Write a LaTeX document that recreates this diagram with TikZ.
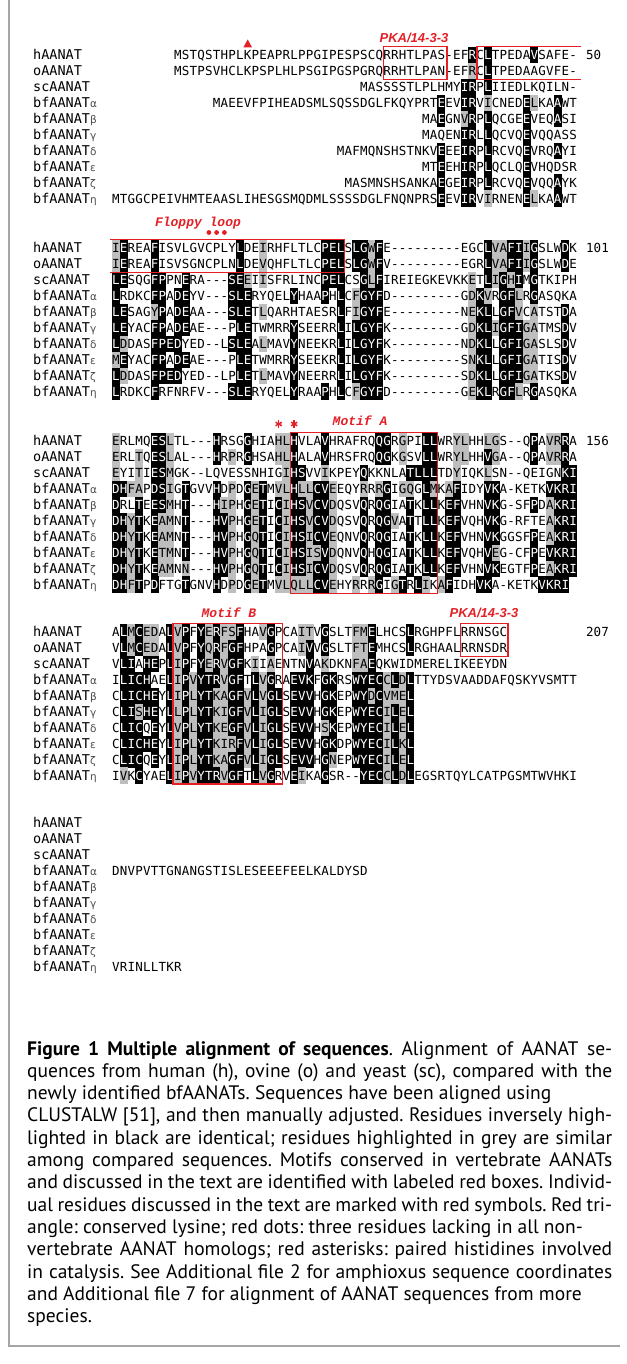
\documentclass[tikz,border=0pt]{standalone}
\usepackage{fontspec}
\newfontfamily\seqfont{DejaVu Sans Mono}
\newfontfamily\greekfont{DejaVu Sans}
\newfontfamily\capfont{PT Sans}
\newfontfamily\redmono{Liberation Mono}
\newfontfamily\redsans{Liberation Sans}
\definecolor{redbox}{RGB}{226,32,38}
\definecolor{hlgrey}{RGB}{190,190,190}
\definecolor{framegrey}{RGB}{165,165,165}
\newcount\cidx
\def\rowY{0}
\def\rs{15.95}
\def\seqcell#1#2{%
  \pgfmathsetmacro\cx{104.25+7.75*\the\cidx}%
  \if b#2\relax
    \fill[black] (\cx-0.1,\rowY-8.1) rectangle ++(7.95,16.2);\def\seqcol{white}%
  \else\if g#2\relax
    \fill[hlgrey] (\cx-0.1,\rowY-8.1) rectangle ++(7.95,16.2);\def\seqcol{black}%
  \else\def\seqcol{black}\fi\fi
  \node[res,text=\seqcol] at (\cx+3.875,\rowY+4.5) {#1};%
  \advance\cidx by 1\relax}
\def\seqgrey#1{\seqcell{#1}{g}\seqloop}
\def\seqkind{n}
\def\seqplain#1{%
  \def\seqch{#1}\def\seqkind{n}%
  \ifcat a\noexpand#1%
    \ifnum`#1>96 \uppercase{\def\seqch{#1}}\def\seqkind{b}\fi
  \fi
  \seqcell{\seqch}{\seqkind}}
\def\seqloop#1{%
  \ifx#1\relax\def\seqnext{}%
  \else\ifx#1+\def\seqnext{\seqgrey}%
  \else\def\seqnext{\seqplain#1\seqloop}%
  \fi\fi\seqnext}
\newcommand\seqrow[3]{\def\rowY{#1}\cidx=#2\relax\seqloop#3\relax}
\newcommand\gk[1]{{\greekfont\fontsize{10.5}{10.5}\selectfont\color{black!70}#1}}
\newcommand\labs[1]{%
  \node[seqlab] at (33,#1+4.5) {hAANAT};
  \node[seqlab] at (33,#1+\rs+4.5) {oAANAT};
  \node[seqlab] at (33,#1+2*\rs+4.5) {scAANAT};
  \node[seqlab] at (33,#1+3*\rs+4.5) {bfAANAT\gk{α}};
  \node[seqlab] at (33,#1+4*\rs+4.5) {bfAANAT\gk{β}};
  \node[seqlab] at (33,#1+5*\rs+4.5) {bfAANAT\gk{γ}};
  \node[seqlab] at (33,#1+6*\rs+4.5) {bfAANAT\gk{δ}};
  \node[seqlab] at (33,#1+7*\rs+4.5) {bfAANAT\gk{ε}};
  \node[seqlab] at (33,#1+8*\rs+4.5) {bfAANAT\gk{ζ}};
  \node[seqlab] at (33,#1+9*\rs+4.5) {bfAANAT\gk{η}};}
\newcommand\redstar[2]{%
  \foreach \a in {90,30,-30}{\draw[redbox,line width=1.5pt] (#1,#2)+(\a:3.6) -- +(\a+180:3.6);}}
\tikzset{
  res/.style={anchor=base, inner sep=0pt, font=\seqfont\fontsize{12.5}{12.5}\selectfont},
  seqlab/.style={anchor=base west, inner sep=0pt, font=\seqfont\fontsize{13.5}{13.5}\selectfont},
  numlab/.style={anchor=base west, inner sep=0pt, font=\seqfont\fontsize{12.5}{12.5}\selectfont},
  redmlab/.style={inner sep=0pt, text=redbox, font=\redmono\bfseries\itshape\fontsize{13}{13}\selectfont},
  redslab/.style={inner sep=0pt, text=redbox, font=\redsans\bfseries\itshape\fontsize{13}{13}\selectfont},
  boxline/.style={draw=redbox, line width=1.3pt},
}
\begin{document}
\begin{tikzpicture}[x=1pt,y=-1pt]
\useasboundingbox (0,0) rectangle (626,1364);
\fill[white] (0,0) rectangle (626,1364);
\draw[framegrey, line width=1.5pt] (9,0) -- (9,1346) -- (620,1346);

% ---------------- block 1
\labs{55}
\seqrow{55}{9}{MSTQSTHPLKPEAPRLPPGIPESPSCQRRHTLPAS-EFrClTPEDAvSAFE-}
\seqrow{55+\rs}{9}{MSTPSVHCLKPSPLHLPSGIPGSPGRQRRHTLPAN-EF+RClTPEDAAGVFE-}
\seqrow{55+2*\rs}{33}{MASSSSTLPLHMYirPlIIEDLKQILN-}
\seqrow{55+3*\rs}{14}{MAEEVFPIHEADSMLSQSSDGLFKQYPRTeEVirV+ICNEDe+LKAaWT}
\seqrow{55+4*\rs}{41}{MAeGN+VrPlQCGEeVEQaSI}
\seqrow{55+5*\rs}{41}{MAQENirLlQCVQeVQQASS}
\seqrow{55+6*\rs}{30}{MAFMQNSHSTNKVeEEirPlRCVQeVRQaYI}
\seqrow{55+7*\rs}{41}{MTeEHirPlQCLQeVHQDSR}
\seqrow{55+8*\rs}{31}{MASMNSHSANKAeGEirPlRCVQeVQQaYK}
\seqrow{55+9*\rs}{1}{MTGGCPEIVHMTEAASLIHESGSMQDMLSSSSDGLFNQNPRSeEVirV+IRNENe+LKAaWT}
\node[numlab] (n50) at (586,55+4.5) {50};
\fill[redbox] (247.7,39.5) -- (243.3,47.5) -- (252.1,47.5) -- cycle;
\node[redslab] (pka1) at (414,38) {PKA/14-3-3};
\draw[boxline] (383.5,46.5) rectangle (447,79.5);
\draw[boxline] (581,46.5) -- (477,46.5) -- (477,79.5) -- (581,79.5);

% ---------------- block 2
\labs{248}
\seqrow{248}{1}{+IeREAfISVLGVCPLYlDE+IRHFLTLCpelSlg+WfE---------EGCl+V+Afi+IgSLWdK}
\seqrow{248+\rs}{1}{+IeREAfISVSGNCPLNlDE+VQHFLTLCpelSlg+WfV---------EGRl+V+Afi+IgSLWdE}
\seqrow{248+2*\rs}{1}{leSQGfpPNeRA---se+EI+ISFRLINCpelCSg+LfIREIEGKEVKK+ETl+Ig+HiMgTKIPH}
\seqrow{248+3*\rs}{1}{lRDKCfpAdeYV---sleRYQELyHAApHlC+FgyfD---------G+Dk+VRgf+LRgASQKA}
\seqrow{248+4*\rs}{1}{leSAG+YpAdeAA---sleT+LQARHTAESRlF+IgyfE---------N+EklLgf+VC+ATSTdA}
\seqrow{248+5*\rs}{1}{leYACfpAdeAE---PleTWMRRySEERRlIlgyfK---------G+Dkl+Igfi+G+ATMSdV}
\seqrow{248+6*\rs}{1}{l+DDASfpedYED--LsleA+LMAVyNEEKRlIlgyfK---------N+DklLgfi+G+ASLSdV}
\seqrow{248+7*\rs}{1}{+MeYACfpAdeAE---PleTWMRRySEEKRlIlgyfK---------S+NklLgfi+G+ATISdV}
\seqrow{248+8*\rs}{1}{l+DDASfpedYED--LPleT+LMAVyNEERRlIlgyfK---------S+DklLgfi+G+ATKSdV}
\seqrow{248+9*\rs}{1}{lRDKCfRFNRFV---sleRYQELyRAApHlC+FgyfD---------G+EklRgf+LRgASQKA}
\node[numlab] (n101) at (586,248+4.5) {101};
\node[redmlab] (floppy) at (198,223) {Floppy loop};
\foreach \dx in {208.9,216.6,224.4}{\fill[redbox] (\dx,232.5) circle (2.4);}
\draw[boxline] (110,239.5) -- (344.5,239.5) -- (344.5,272.5) -- (110,272.5);

% ---------------- block 3
\labs{441}
\seqrow{441}{1}{+ERLMQes+LTL---hRSGgHIA+H+LhVLAvHRAFRQqgR+GPIllWR+Y+LHH+L+GS--QpA+V+RrA}
\seqrow{441+\rs}{1}{+ERL+TQes+LAL---hR+PRgHSA+H+LhALAvHRSFRQqgK+GSVllWR+Y+LHHv+GA--QpA+V+RrA}
\seqrow{441+2*\rs}{1}{+EYI+TIes+MGK--LQVESSNHIG+IhsVV+IKPEYqKKNLAtlllTD+YIQK+LSN--QEIGNki}
\seqrow{441+3*\rs}{1}{dh+F+APds+IGtGVVhD+PDg+EtM+V+Lh+L+Lcv+EEQY+RR+RgI+G+QGl+MK+AfIDYvkA-KETKvkri}
\seqrow{441+4*\rs}{1}{dRLtEes+MHt---h+I+PHg+EtIc+Ihs+Vcv+DQSVqRqgIAtKllKefVHNvkG-SFpD+Akri}
\seqrow{441+5*\rs}{1}{dh+YtKe+A+MNt---hv+PHg+EtIc+Ihs+Vcv+DQSVqRqg+VAtTllKefVQHvkG-RFTE+Akri}
\seqrow{441+6*\rs}{1}{dh+YtKe+A+MNt---hv+PHg+QtIc+Ihs+Icv+EQNVqRqgIAtKllKefVHNvkGGSFpE+Akri}
\seqrow{441+7*\rs}{1}{dh+YtKe+T+MNt---hv+PHg+QtIc+Ihs+I+Sv+DQNVqHqgIAtKllKefVQHv+EG-CFpEvkri}
\seqrow{441+8*\rs}{1}{dh+YtKe+A+MN+N---hv+PHg+QtIc+Ihs+Icv+DQSVqRqgIAtKllKefVHNvkEGTFpE+Akri}
\seqrow{441+9*\rs}{1}{dh+FtPdFTGtGNVhD+PDg+EtM+V+L+Q+L+Lcv+EHY+RR+RgI+GtRl+IK+AfIDHvkA-KETKvkri}
\node[numlab] (n156) at (586,441+4.5) {156};
\redstar{278.7}{424}
\redstar{294.2}{424}
\node[redmlab] (motifA) at (360,421) {Motif A};
\draw[boxline] (290.25,432.5) rectangle (437.5,593.5);

% ---------------- block 4
\labs{632}
\seqrow{632}{1}{Al+Mc+E+DAl+VpFy+Er+F+SfHA+VgPCA+I+TVgSLT+F+MeLHCSlRGHPFLRRNSGC}
\seqrow{632+\rs}{1}{Vl+Mc+E+DAl+VpFy+Qr+FgfHPAgPCA+IvVgSLT+F+TeMHCSlRGHAALRRNSDR}
\seqrow{632+2*\rs}{1}{VliAhePl+IpFy+Er+VgfK+II+AENTNvA+KDKN+F+AeQKWIDMERELIKEEYDN}
\seqrow{632+3*\rs}{1}{IlichAEl+Ip+Vytr+VgfTl+VgRAevkFgkRSwyec+Cl+DlTTYDSVAADDAFQSKYVSMTT}
\seqrow{632+4*\rs}{1}{ClicheYl+Ip+Lyt+K+Agf+Vl+VglSevvHgkEPwy+Dc+V+M+El}
\seqrow{632+5*\rs}{1}{Cli+SheYl+Lp+Lyt+K+Igf+Vl+IglSevvHgkEPwyec+Il+El}
\seqrow{632+6*\rs}{1}{ClicQeYl+Vp+Lyt+K+Egf+Vl+IglSevvH+SkEPwyec+Il+El}
\seqrow{632+7*\rs}{1}{ClicheYl+Ip+Lyt+K+I+Rf+Vl+IglSevvHgkDPwyec+Il+Kl}
\seqrow{632+8*\rs}{1}{ClicQeYl+Ip+Lyt+K+Agf+Vl+IglSevvHg+NEPwyec+Il+El}
\seqrow{632+9*\rs}{1}{I+VKcYAEl+Ip+Vytr+VgfTl+VgRVe+IKAgSR--yec+Cl+DlEGSRTQYLCATPGSMTWVHKI}
\node[numlab] (n207) at (586,632+4.5) {207};
\node[redmlab] (motifB) at (229,612.5) {Motif B};
\draw[boxline] (173,623.5) rectangle (282.5,784);
\node[redslab] (pka2) at (484,613) {PKA/14-3-3};
\draw[boxline] (460.75,623.5) rectangle (508,656.5);

% ---------------- block 5
\labs{823}
\seqrow{823+3*\rs}{1}{DNVPVTTGNANGSTISLESEEEFEELKALDYSD}
\seqrow{823+9*\rs}{1}{VRINLLTKR}

% ---------------- caption
\node[anchor=north west, inner sep=0pt, text width=585pt, align=justify,
      font=\capfont\fontsize{19.5}{22.3}\selectfont\frenchspacing] (caption) at (27,1041)
{\textbf{Figure 1 Multiple alignment of sequences}. Alignment of AANAT se-\linebreak
quences from human (h), ovine (o) and yeast (sc), compared with the\linebreak
newly identified bfAANATs. Sequences have been aligned using\newline
CLUSTALW [51], and then manually adjusted. Residues inversely high-\linebreak
lighted in black are identical; residues highlighted in grey are similar\linebreak
among compared sequences. Motifs conserved in vertebrate AANATs\linebreak
and discussed in the text are identified with labeled red boxes. Individ-\linebreak
ual residues discussed in the text are marked with red symbols. Red tri-\linebreak
angle: conserved lysine; red dots: three residues lacking in all non-\newline
vertebrate AANAT homologs; red asterisks: paired histidines involved\linebreak
in catalysis. See Additional file 2 for amphioxus sequence coordinates\linebreak
and Additional file 7 for alignment of AANAT sequences from more\newline
species.};
\end{tikzpicture}
\end{document}
